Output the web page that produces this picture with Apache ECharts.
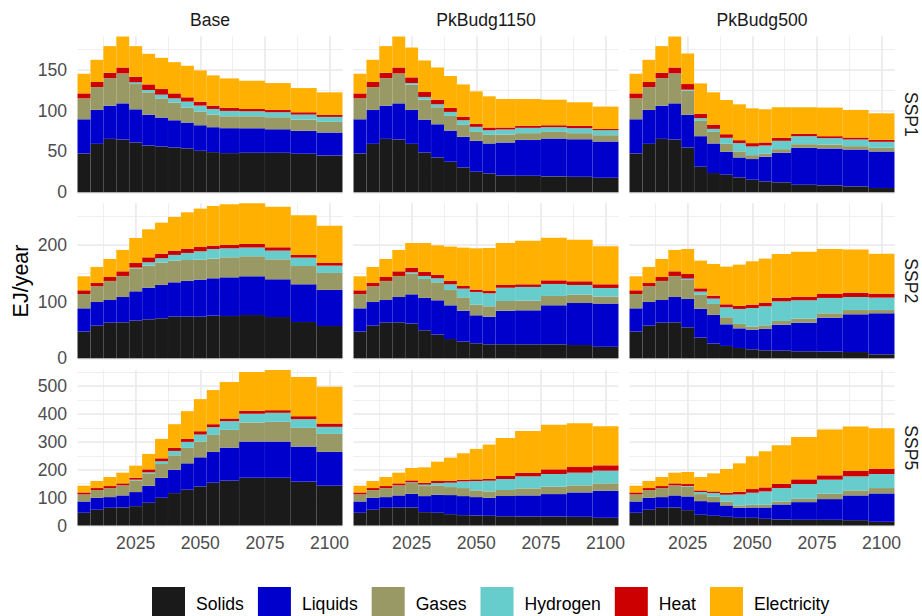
<!DOCTYPE html>
<html>
<head>
<meta charset="utf-8">
<script src="https://cdn.jsdelivr.net/npm/echarts@6/dist/echarts.min.js"></script>
<style>
  html, body { margin: 0; padding: 0; background: #ffffff; }
  #chart { width: 922px; height: 616px; }
</style>
</head>
<body>
<div id="chart"></div>
<script>
// Final energy by carrier, EJ/year, faceted by scenario (columns) and SSP (rows)
const years = [2005, 2010, 2015, 2020, 2025, 2030, 2035, 2040, 2045, 2050, 2055, 2060, 2070, 2080, 2090, 2100];
const carriers = ['Solids', 'Liquids', 'Gases', 'Hydrogen', 'Heat', 'Electricity'];
const carrierColors = ['#1a1a1a', '#0000cc', '#999966', '#66cccc', '#cc0000', '#ffb000'];
const scenarios = ['Base', 'PkBudg1150', 'PkBudg500'];
const ssps = ['SSP1', 'SSP2', 'SSP5'];
const xTickLabels = [2025, 2050, 2075, 2100];
const yMajorSteps = [50, 100, 100];

// Historical values 2005-2020; rows follow the carrier order above
const ssp1History = [
  [47.6, 59.3, 65.4, 64.6],
  [41.8, 41.5, 40.7, 44.3],
  [25.6, 28.1, 33.7, 36.6],
  [0, 0, 0, 0],
  [6.1, 6.1, 6.5, 7.3],
  [24.0, 27.2, 32.6, 37.9]
];
const ssp2History = [
  [47.1, 57.6, 62.9, 63.5],
  [41.1, 41.8, 40.0, 44.7],
  [25.3, 27.7, 33.6, 37.1],
  [0, 0, 0, 0],
  [6.5, 5.8, 7.0, 8.2],
  [24.7, 28.3, 31.8, 37.7]
];
const ssp5History = [
  [45.6, 56.4, 63.5, 64.7],
  [40.7, 43.1, 38.4, 43.2],
  [25.2, 27.6, 32.4, 36.0],
  [0, 0, 0, 0],
  [7.2, 7.2, 7.2, 7.2],
  [24.0, 25.2, 32.4, 38.3]
];

// Scenario projections 2025-2100; rows follow the carrier order above
const ssp1Base = [
  [61.0, 57.3, 56.1, 54.9, 53.7, 50.8, 49.2, 48.0, 48.4, 48.4, 47.2, 45.1],
  [40.6, 37.8, 35.4, 33.3, 31.7, 31.3, 30.5, 30.5, 30.1, 28.8, 28.0, 28.1],
  [30.9, 27.3, 23.5, 21.6, 18.3, 16.7, 15.4, 14.6, 14.6, 14.7, 13.8, 13.0],
  [2.1, 2.8, 4.5, 5.2, 7.3, 7.3, 6.9, 6.5, 6.1, 6.1, 6.1, 6.1],
  [6.9, 6.9, 6.9, 6.1, 5.3, 4.9, 4.1, 3.7, 2.8, 2.8, 2.9, 2.4],
  [37.4, 37.4, 38.2, 38.2, 38.6, 38.2, 37.0, 36.1, 34.6, 32.9, 29.6, 27.7]
];
const ssp1PkBudg1150 = [
  [59.3, 48.8, 42.7, 37.4, 30.5, 25.2, 23.2, 20.7, 20.3, 19.5, 19.1, 17.9],
  [41.5, 40.2, 40.6, 38.2, 37.4, 37.8, 36.6, 40.3, 43.9, 46.4, 45.9, 44.3],
  [30.9, 24.4, 20.8, 17.9, 14.6, 11.0, 10.5, 9.7, 8.2, 8.1, 7.4, 7.7],
  [2.0, 3.3, 3.6, 4.9, 5.7, 6.1, 5.7, 6.1, 6.5, 5.7, 6.1, 6.1],
  [7.0, 6.1, 5.7, 4.9, 4.1, 3.6, 3.3, 2.5, 2.4, 2.4, 2.8, 1.6],
  [36.5, 38.6, 39.4, 39.0, 39.8, 39.9, 38.2, 34.9, 32.9, 31.3, 28.9, 27.3]
];
const ssp1PkBudg500 = [
  [54.9, 31.3, 23.6, 21.5, 18.3, 15.4, 13.4, 12.2, 9.3, 8.5, 7.3, 5.3],
  [39.8, 37.4, 36.2, 28.1, 24.4, 25.3, 30.1, 36.2, 45.2, 45.2, 45.1, 44.7],
  [29.7, 18.7, 14.2, 9.7, 7.3, 4.8, 3.7, 4.4, 4.4, 4.8, 4.1, 4.5],
  [1.2, 3.3, 3.6, 7.4, 10.2, 10.6, 10.1, 10.2, 9.8, 7.8, 8.1, 7.3],
  [6.9, 5.6, 5.3, 4.4, 3.6, 4.1, 3.7, 3.7, 2.8, 2.4, 2.5, 2.4],
  [37.4, 37.0, 39.5, 41.9, 43.9, 42.6, 40.6, 37.4, 32.6, 35.0, 33.7, 32.5]
];
const ssp2Base = [
  [66.5, 68.8, 70.6, 73.5, 73.5, 73.5, 75.3, 74.7, 76.5, 72.9, 64.1, 57.1],
  [51.7, 55.9, 58.8, 60.6, 63.0, 65.3, 65.9, 68.2, 68.2, 66.5, 66.5, 63.5],
  [40.6, 38.8, 39.4, 38.3, 37.0, 35.3, 34.7, 35.3, 35.3, 35.3, 32.3, 30.0],
  [1.2, 5.9, 7.7, 10.0, 12.4, 14.7, 17.0, 15.9, 15.3, 15.3, 14.7, 12.9],
  [8.2, 8.8, 8.2, 7.6, 7.6, 7.7, 5.9, 5.9, 6.5, 5.9, 4.8, 4.7],
  [44.2, 49.4, 54.7, 59.4, 64.1, 67.6, 70.0, 71.8, 71.7, 71.7, 70.0, 65.9]
];
const ssp2PkBudg1150 = [
  [61.2, 49.4, 41.8, 34.1, 29.4, 26.5, 24.7, 24.7, 24.7, 24.7, 23.5, 20.6],
  [51.7, 57.1, 60.6, 59.4, 54.7, 49.4, 48.8, 59.4, 60.0, 68.8, 74.1, 75.9],
  [36.5, 33.5, 31.7, 27.1, 23.5, 18.8, 18.3, 17.1, 17.1, 16.5, 14.8, 12.3],
  [2.4, 5.3, 7.1, 10.0, 15.3, 22.4, 22.9, 23.5, 24.1, 21.2, 17.0, 15.3],
  [8.2, 7.1, 5.9, 5.9, 4.7, 4.1, 4.1, 4.7, 4.7, 6.4, 6.5, 6.5],
  [43.5, 51.1, 52.3, 60.6, 67.7, 72.9, 75.9, 74.1, 77.0, 75.3, 73.5, 67.0]
];
const ssp2PkBudg500 = [
  [54.7, 36.5, 25.9, 21.8, 18.2, 15.9, 14.1, 13.5, 12.4, 11.8, 11.2, 7.1],
  [50.0, 51.1, 50.6, 38.2, 34.7, 34.7, 37.7, 45.9, 50.5, 60.0, 66.4, 72.3],
  [33.5, 24.8, 19.4, 12.4, 7.7, 5.3, 6.4, 6.5, 7.1, 7.6, 7.7, 5.9],
  [2.4, 5.2, 9.4, 17.6, 26.5, 32.9, 33.6, 34.7, 32.4, 27.1, 22.9, 21.8],
  [8.2, 5.9, 5.3, 5.3, 5.3, 5.9, 6.4, 6.5, 6.4, 7.6, 7.7, 7.0],
  [44.1, 48.9, 55.9, 66.5, 72.9, 76.5, 77.7, 77.0, 79.4, 78.8, 75.9, 70.6]
];
const ssp5Base = [
  [69.5, 81.5, 99.5, 116.3, 128.3, 140.3, 153.5, 160.7, 171.5, 171.5, 157.1, 142.7],
  [50.4, 61.2, 72.0, 83.9, 94.7, 104.3, 110.3, 118.7, 129.5, 129.5, 125.9, 121.1],
  [42.0, 44.4, 49.1, 51.6, 55.2, 56.4, 61.1, 63.5, 68.3, 70.7, 67.1, 64.7],
  [2.4, 3.5, 9.6, 15.6, 21.6, 25.1, 27.6, 31.2, 31.2, 32.4, 31.2, 25.2],
  [7.2, 10.8, 10.8, 10.8, 10.8, 12.0, 10.8, 9.6, 10.8, 9.6, 10.8, 12.0],
  [43.1, 55.2, 69.6, 85.1, 99.5, 115.1, 122.3, 130.7, 139.1, 143.9, 140.3, 131.9]
];
const ssp5PkBudg1150 = [
  [64.7, 48.0, 45.6, 40.8, 37.2, 36.0, 34.8, 33.6, 32.4, 32.4, 31.2, 27.6],
  [49.2, 57.5, 64.7, 68.3, 68.3, 65.9, 64.7, 71.9, 75.5, 80.3, 87.5, 97.1],
  [38.4, 36.0, 33.6, 28.8, 28.8, 24.0, 22.8, 21.6, 25.2, 26.4, 25.2, 26.4],
  [2.4, 4.8, 8.4, 15.6, 24.0, 33.6, 38.4, 39.6, 43.2, 45.6, 45.5, 45.5],
  [7.2, 7.2, 7.2, 7.2, 6.0, 6.0, 7.2, 10.8, 13.1, 16.7, 20.4, 19.2],
  [44.3, 55.1, 69.5, 82.7, 94.7, 109.1, 122.3, 136.6, 149.9, 159.5, 157.1, 140.3]
];
const ssp5PkBudg500 = [
  [55.2, 38.4, 34.8, 31.2, 27.6, 27.6, 24.0, 21.6, 20.4, 20.4, 19.2, 13.2],
  [49.1, 49.1, 49.1, 40.7, 35.9, 37.1, 40.7, 53.9, 63.5, 74.3, 88.7, 101.9],
  [34.8, 25.2, 19.2, 14.4, 8.4, 9.6, 9.6, 10.8, 12.0, 19.2, 18.0, 19.2],
  [2.4, 7.2, 13.2, 24.0, 39.6, 43.2, 48.0, 48.0, 52.8, 50.4, 50.4, 50.4],
  [7.2, 6.0, 6.0, 7.2, 9.6, 13.2, 14.4, 15.6, 16.8, 15.6, 20.3, 19.1],
  [43.1, 48.0, 64.8, 85.1, 101.9, 117.5, 129.5, 137.9, 152.2, 164.2, 158.3, 145.1]
];

// ---- assemble panels: history followed by projection for each carrier ----
const histories = [ssp1History, ssp2History, ssp5History];
const projections = [
  [ssp1Base, ssp1PkBudg1150, ssp1PkBudg500],
  [ssp2Base, ssp2PkBudg1150, ssp2PkBudg500],
  [ssp5Base, ssp5PkBudg1150, ssp5PkBudg500]
];
const panelValues = projections.map((row, r) =>
  row.map(proj => proj.map((vals, k) => histories[r][k].concat(vals)))
);

// Bar edges sit halfway between neighbouring years
const n = years.length;
const edges = years.map((y, i) => i === 0 ? y - (years[1] - years[0]) / 2 : (years[i - 1] + y) / 2);
edges.push(years[n - 1] + (years[n - 1] - years[n - 2]) / 2);
const xMin = edges[0], xMax = edges[n];

// Free y scale per row: the tallest stacked bar in that row
const rowMax = panelValues.map(row => Math.max(...row.map(panel =>
  Math.max(...years.map((_, i) => panel.reduce((s, vals) => s + vals[i], 0)))
)));

// ---- layout ----
const FONT = '"Liberation Sans", Arial, Helvetica, sans-serif';
const colLeft = [77.5, 353.5, 629.5];
const panelW = 265;
const rowTop = [36.5, 203.3, 370];
const rowH = [155.8, 155, 155.5];
const gridColor = '#ebebeb';

const grids = [], xAxes = [], yAxes = [], series = [];

for (let r = 0; r < 3; r++) {
  for (let c = 0; c < 3; c++) {
    const g = r * 3 + c;
    grids.push({ left: colLeft[c], top: rowTop[r], width: panelW, height: rowH[r], containLabel: false, outerBoundsMode: 'none' });

    // major x gridlines + labels
    xAxes.push({
      type: 'value', gridIndex: g, min: xMin, max: xMax,
      minInterval: 25, maxInterval: 25, splitNumber: 4,
      axisLine: { show: false }, axisTick: { show: false },
      axisLabel: {
        show: r === 2, margin: 8, color: '#4d4d4d', fontSize: 17.6, fontFamily: FONT,
        showMinLabel: false, showMaxLabel: false,
        formatter: v => (xTickLabels.indexOf(v) >= 0 ? String(v) : '')
      },
      splitLine: { show: true, showMinLine: false, showMaxLine: false, lineStyle: { color: gridColor, width: 1.6 } }
    });
    // minor x gridlines
    xAxes.push({
      type: 'value', gridIndex: g, min: xMin, max: xMax,
      minInterval: 12.5, maxInterval: 12.5, splitNumber: 8,
      axisLine: { show: false }, axisTick: { show: false }, axisLabel: { show: false },
      splitLine: { show: true, showMinLine: false, showMaxLine: false, lineStyle: { color: gridColor, width: 0.8 } }
    });

    // major y gridlines + labels
    yAxes.push({
      type: 'value', gridIndex: g, min: 0, max: rowMax[r], interval: yMajorSteps[r],
      axisLine: { show: false }, axisTick: { show: false },
      axisLabel: {
        show: c === 0, margin: 10.5, color: '#4d4d4d', fontSize: 17.6, fontFamily: FONT,
        showMaxLabel: false
      },
      splitLine: { show: true, showMaxLine: false, lineStyle: { color: gridColor, width: 1.6 } }
    });
    // minor y gridlines
    yAxes.push({
      type: 'value', gridIndex: g, min: 0, max: rowMax[r], interval: yMajorSteps[r] / 2,
      axisLine: { show: false }, axisTick: { show: false }, axisLabel: { show: false },
      splitLine: { show: true, showMaxLine: false, lineStyle: { color: gridColor, width: 0.8 } }
    });

    // stacked bars: one custom series per carrier
    const panel = panelValues[r][c];
    const base = years.map(() => 0);
    panel.forEach((vals, k) => {
      const data = years.map((y, i) => {
        const lo = base[i];
        const hi = lo + vals[i];
        base[i] = hi;
        return [edges[i], edges[i + 1], lo, hi, y];
      });
      series.push({
        type: 'custom',
        name: carriers[k],
        xAxisIndex: 2 * g,
        yAxisIndex: 2 * g,
        itemStyle: { color: carrierColors[k] },
        encode: { x: [0, 1], y: [2, 3] },
        renderItem: (params, api) => {
          const a = api.coord([api.value(0), api.value(3)]);
          const b = api.coord([api.value(1), api.value(2)]);
          return {
            type: 'rect',
            shape: { x: a[0], y: a[1], width: b[0] - a[0], height: b[1] - a[1] },
            style: { fill: api.visual('color'), stroke: 'rgba(255,255,255,0.06)', lineWidth: 0.5 }
          };
        },
        data
      });
    });
  }
}

// strip labels and axis title
const graphics = [];
scenarios.forEach((s, c) => graphics.push({
  type: 'text', x: colLeft[c] + panelW / 2, y: 20,
  style: { text: s, font: '17.6px ' + FONT, fill: '#1a1a1a', align: 'center', verticalAlign: 'middle', textAlign: 'center', textVerticalAlign: 'middle' }
}));
ssps.forEach((s, r) => graphics.push({
  type: 'text', x: 911, y: rowTop[r] + rowH[r] / 2, rotation: -Math.PI / 2,
  style: { text: s, font: '17.6px ' + FONT, fill: '#1a1a1a', align: 'center', verticalAlign: 'middle', textAlign: 'center', textVerticalAlign: 'middle' }
}));
graphics.push({
  type: 'text', x: 21, y: (rowTop[0] + rowTop[2] + rowH[2]) / 2, rotation: Math.PI / 2,
  style: { text: 'EJ/year', font: '21.5px ' + FONT, fill: '#000000', align: 'center', verticalAlign: 'middle', textAlign: 'center', textVerticalAlign: 'middle' }
});

const chart = echarts.init(document.getElementById('chart'), null, { renderer: 'svg' });
chart.setOption({
  animation: false,
  backgroundColor: '#ffffff',
  grid: grids,
  xAxis: xAxes,
  yAxis: yAxes,
  series,
  graphic: graphics,
  legend: {
    data: carriers,
    left: 152, top: 587, padding: 0,
    itemWidth: 33, itemHeight: 33, itemGap: 14,
    icon: 'rect',
    selectedMode: false,
    itemStyle: { borderWidth: 0 },
    textStyle: { fontSize: 17.6, color: '#000000', fontFamily: FONT, padding: [0, 0, 0, 6] }
  }
});
</script>
</body>
</html>
